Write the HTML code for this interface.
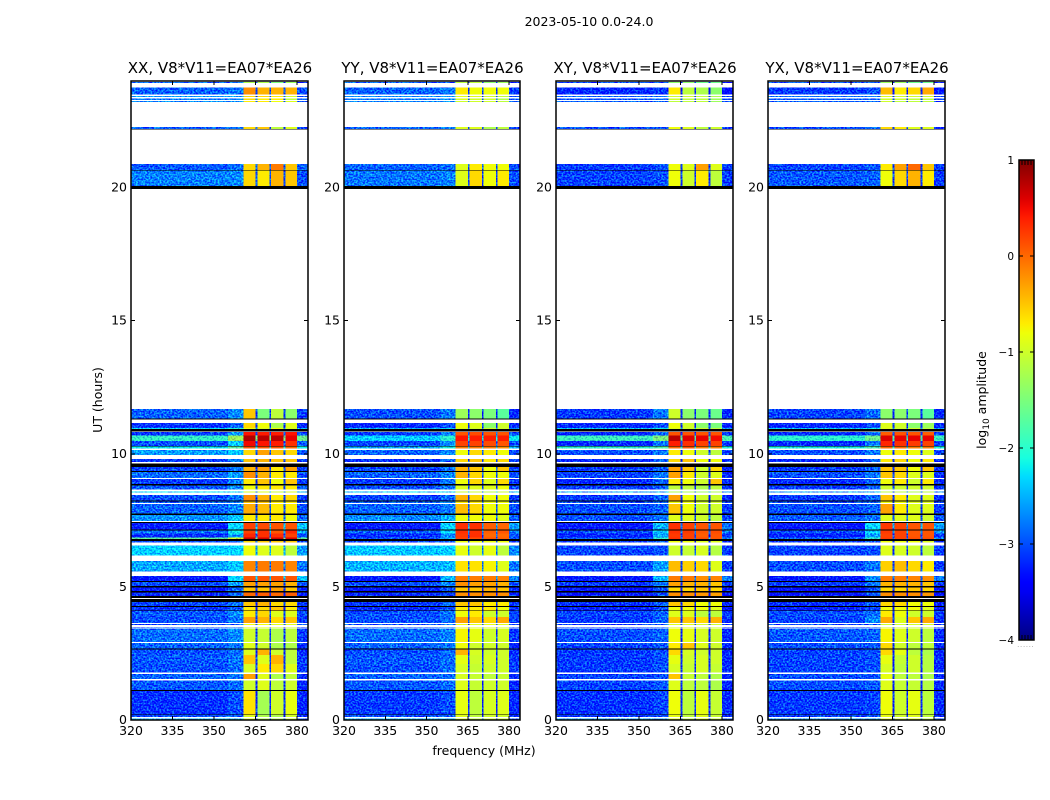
<!DOCTYPE html>
<html lang="en">
<head>
<meta charset="utf-8">
<title>2023-05-10 amplitude waterfall</title>
<style>
  html, body { margin: 0; padding: 0; background: #fff; }
  #figure { display: block; width: 1050px; height: 800px; }
  text { font-family: "DejaVu Sans", "Liberation Sans", sans-serif; fill: #000; }
</style>
</head>
<body>
<svg id="figure" xmlns="http://www.w3.org/2000/svg" width="1050" height="800" viewBox="0 0 1050 800">
  <defs>
    <filter id="grain" filterUnits="userSpaceOnUse" x="0" y="0" width="1050" height="800" color-interpolation-filters="sRGB">
      <feTurbulence type="fractalNoise" baseFrequency="0.55 0.62" numOctaves="1" seed="7" result="n"/>
      <feColorMatrix in="n" type="matrix" values="0.6 0 0 0 0.2  2.6 0 0 0 -0.8  0 0 0 0 0.5  0 0 0 0 1" result="c"/>
      <feComposite in="SourceGraphic" in2="c" operator="arithmetic" k1="0" k2="1" k3="0.7" k4="-0.35" result="m"/>
      <feComposite in="m" in2="SourceGraphic" operator="in"/>
    </filter>
    <linearGradient id="cbar-gradient" x1="0" y1="1" x2="0" y2="0"></linearGradient>
  </defs>
  <text x="589" y="26" text-anchor="middle" font-size="12.5">2023-05-10 0.0-24.0</text>
  <text x="484" y="755" text-anchor="middle" font-size="12.5">frequency (MHz)</text>
  <text transform="translate(102,400) rotate(-90)" text-anchor="middle" font-size="12.5">UT (hours)</text>
  <text transform="translate(986,400) rotate(-90)" text-anchor="middle" font-size="12.5">log<tspan dy="3" font-size="9">10</tspan><tspan dy="-3"> amplitude</tspan></text>
  <g id="panels"></g>
  <g id="colorbar"></g>
</svg>
<script>
// ---- data ------------------------------------------------------------
const K = -9; // fully flagged (black) time band
const panelTitles = ["XX, V8*V11=EA07*EA26", "YY, V8*V11=EA07*EA26", "XY, V8*V11=EA07*EA26", "YX, V8*V11=EA07*EA26"];
const xTicks = [320, 335, 350, 365, 380];
const yTicks = [0, 5, 10, 15, 20];
const cbarTicks = [-4, -3, -2, -1, 0, 1];
// UT hours of each observed time band; everything not listed is blank
const bandTop = [23.96,23.76,23.43,23.35,23.24,22.27,22.20,20.88,20.65,20.63,20.05,
  11.68,11.33,11.16,10.97,10.93,10.81,10.68,10.47,10.30,10.28,10.14,9.80,9.64,9.51,9.35,9.31,9.05,8.87,8.81,8.59,8.45,8.24,8.21,8.11,7.76,7.70,7.44,7.40,7.16,7.11,7.01,6.86,6.79,6.73,6.55,5.97,5.41,5.23,5.19,5.04,4.98,4.84,4.78,4.66,4.54,4.43,4.28,4.25,4.12,4.09,3.87,3.60,3.50,3.43,2.89,2.68,2.65,2.44,2.10,1.73,1.48,1.13,1.09,0.21,0.18,0.05];
const bandBottom = [23.92,23.50,23.39,23.28,23.21,22.20,22.17,20.65,20.63,20.05,19.95,
  11.33,11.29,10.97,10.93,10.83,10.68,10.47,10.30,10.28,10.19,9.95,9.69,9.51,9.35,9.31,9.09,8.87,8.81,8.66,8.55,8.24,8.21,8.15,7.76,7.70,7.47,7.40,7.16,7.11,7.01,6.86,6.79,6.73,6.66,6.17,5.57,5.23,5.19,5.04,4.98,4.84,4.78,4.66,4.59,4.43,4.28,4.25,4.12,4.09,3.87,3.65,3.56,3.47,2.93,2.68,2.65,2.44,2.10,1.78,1.54,1.13,1.09,0.21,0.18,0.12,0];
// frequency channel groups in MHz
const freqEdges = [320, 355, 360.6, 365.1, 365.7, 370.1, 370.7, 375.2, 375.8, 380, 384];
// which level of a row each frequency group uses: low, shoulder, s1..s4, edge (gaps follow edge)
const freqLevelIndex = [0, 1, 2, 6, 3, 6, 4, 6, 5, 6];
// log10 amplitude per band: [low, shoulder, spw1, spw2, spw3, spw4, edge]
const xxLevels = [
[-2.9,-2.9,-1.2,-1.2,-1.5,-1.3,-3.3],[-2.9,-2.8,-.2,-.4,-.4,-.4,-3],[-2.6,-2.6,-.6,-.6,-.7,-1,-3],[-2.8,-2.7,-.6,-.7,-.7,-1.1,-2.9],[-2.7,-2.7,-.7,-.7,-.8,-.9,-3],[-2.9,-2.8,-.6,-.5,-1.1,-.9,-3.1],K,
[-2.95,-2.85,-.6,-.4,-.1,-.5,-2.9],K,[-2.75,-2.7,-.6,-.7,-.4,-.5,-3],K,
[-2.9,-2.7,-.5,-1.5,-1.1,-1.4,-3.1],K,[-3.15,-2.9,-.6,-.8,-1.2,-.9,-3.2],[-2.3,-2.1,-.8,-.9,-.8,-.9,-2.5],K,
[-3.1,-2.6,.45,.4,.4,.45,-3],[-1.95,-1.3,.8,.75,.75,.55,-1.6],[-3,-2.4,.5,.45,.4,.3,-2.9],K,[-2.2,-1.7,.1,.1,.1,0,-2.2],
[-2.6,-2.4,-.6,-.3,-.5,-.6,-2.9],[-3.1,-2.7,-.5,-.4,-.5,-.5,-3.1],K,[-3.05,-2.8,-.4,-.3,-.7,-.3,-3.1],K,
[-2.85,-2.6,-.2,-.4,-.7,-.7,-3],[-3.1,-2.75,-.7,-.5,-.8,-.5,-3.1],K,[-2.95,-2.7,-.8,-.7,-.7,-.7,-2.9],[-2.3,-2.3,-.9,-.9,-1,-.9,-2.5],
[-3,-2.8,-.2,-.4,-.7,-.6,-3.1],K,[-2.9,-2.7,-.5,-.5,-.7,-.7,-3],[-2.9,-2.7,-.35,-.45,-.7,-.7,-3],K,
[-2.65,-2.4,-.7,-.7,-.7,-.8,-2.9],K,[-3.25,-2.3,.2,.15,.1,.1,-2.4],K,[-2.8,-2.2,.2,.3,.1,.35,-2.5],[-3.2,-2.6,.35,.3,.3,.2,-3],[-1.7,-1,.7,.65,.65,.6,-1.7],K,
[-3,-2.8,-.6,-.5,-.5,-.5,-3.1],[-2.35,-2.3,-.8,-.9,-.9,-1.1,-2.6],[-2.55,-2.4,-.15,-.1,-.1,-.15,-2.8],
[-3.3,-2.3,.1,.1,.1,.1,-2.4],K,[-3,-2.6,-.3,-.3,-.3,-.4,-3],K,[-3.3,-2.9,-.5,-.5,-.3,-.5,-3.2],K,[-3.2,-2.9,0,.05,0,.05,-3.2],K,K,
[-3.05,-2.85,-.5,-.4,-.6,-.6,-3.1],K,[-3.15,-2.95,-.7,-.6,-.5,-.7,-3.2],K,[-2.95,-2.7,-.7,-.6,-.9,-.9,-3],[-3,-2.8,-.3,-.4,-.6,-.5,-3.1],
[-3,-2.9,-.8,-.8,-.9,-.9,-3.1],[-3,-2.9,-.8,-.8,-.9,-.9,-3.1],[-2.85,-2.7,-1,-1.05,-1.2,-1.1,-3.1],[-2.9,-2.8,-.9,-1,-1.2,-1.2,-3.2],K,
[-3,-2.85,-.9,-.4,-1,-1.1,-3.2],[-2.95,-2.8,-.5,-.9,-.4,-1.1,-3.1],[-3,-2.85,-.95,-.7,-.6,-.9,-3.1],[-2.9,-2.8,-.3,-.9,-1.2,-1.1,-3.2],[-2.95,-2.85,-1,-.9,-1.1,-1,-3.2],K,
[-3.15,-3,-.65,-1.25,-1,-.85,-3.2],K,[-3,-2.9,-.9,-1.2,-1.2,-1,-3.2],[-2.5,-2.5,-.9,-1.2,-1.2,-1,-3]
];
const yyLevels = [
[-2.9,-2.9,-1.1,-1.1,-1.4,-1.3,-3.3],[-2.9,-2.8,-.7,-.8,-.8,-.8,-3.1],[-2.7,-2.6,-.9,-.9,-1,-1.1,-3],[-2.8,-2.7,-.9,-1,-1,-1.2,-3],[-2.7,-2.7,-1,-1,-1,-1.1,-3],[-2.9,-2.8,-.9,-.9,-1.2,-1.1,-3.1],K,
[-2.9,-2.85,-.9,-.7,-.8,-.8,-3],K,[-2.8,-2.75,-.9,-.6,-.8,-.7,-3],K,
[-3,-2.8,-1.3,-1.4,-1.5,-1.7,-3.2],K,[-3.2,-3,-.8,-.9,-1.4,-1,-3.2],[-2.5,-2.3,-.9,-1,-1,-1,-2.7],K,
[-3.1,-2.8,.1,.15,.1,.1,-3],[-2.35,-2,.45,.4,.4,.4,-2.2],[-3.05,-2.7,.2,.2,.15,.1,-3],K,[-2.5,-2.1,-.1,-.1,-.1,-.2,-2.5],
[-2.9,-2.7,-.8,-.6,-.7,-.8,-3],[-3.15,-2.9,-.6,-.5,-.7,-.6,-3.1],K,[-3.05,-2.85,-.4,-.5,-.8,-.5,-3.1],K,
[-2.9,-2.7,-.4,-.6,-.8,-.8,-3],[-3.1,-2.8,-.8,-.6,-.9,-.6,-3.1],K,[-3,-2.8,-.9,-.9,-.9,-.8,-3],[-2.4,-2.4,-1,-1,-1.1,-1,-2.6],
[-3.05,-2.85,-.4,-.6,-.8,-.8,-3.1],K,[-2.9,-2.8,-.7,-.7,-.8,-.8,-3],[-2.9,-2.8,-.45,-.6,-.8,-.8,-3],K,
[-2.7,-2.5,-.8,-.8,-.8,-.9,-2.9],K,[-3.3,-2.3,.3,.3,.05,0,-2.6],K,[-2.9,-2.3,.3,.3,.05,.1,-2.7],[-3.2,-2.7,.25,.3,0,0,-3],[-3,-2.5,.2,.15,.1,.05,-2.9],K,
[-3,-2.85,-.8,-.8,-.8,-.8,-3.1],[-2.4,-2.35,-.85,-1,-.85,-1.1,-2.7],[-2.5,-2.45,-.65,-.65,-.75,-.9,-2.8],
[-3.3,-2.5,-.1,-.1,-.1,-.15,-2.7],K,[-3,-2.7,-.2,-.3,-.3,-.4,-3],K,[-3.3,-3,-.5,-.5,-.4,-.5,-3.2],K,[-3.2,-3,-.2,-.2,-.2,-.2,-3.2],K,K,
[-3.1,-2.9,-.5,-.5,-.7,-.7,-3.1],K,[-3.2,-3,-.7,-.7,-.7,-.8,-3.2],K,[-3,-2.8,-.8,-.7,-1,-1,-3],[-3,-2.85,-.3,-.5,-.6,-.35,-3.1],
[-3,-2.9,-.8,-.9,-.85,-.9,-3.1],[-3,-2.9,-.8,-.9,-.85,-.9,-3.1],[-2.85,-2.75,-.75,-.85,-1,-.95,-3.1],[-2.9,-2.8,-.8,-1,-1,-1,-3.2],K,
[-3,-2.85,-.4,-.95,-1,-1,-3.2],[-2.95,-2.85,-.85,-1,-.95,-1,-3.1],[-3,-2.85,-.95,-1.05,-1,-1,-3.1],[-2.9,-2.85,-.95,-1.05,-1.1,-1.05,-3.2],[-2.95,-2.85,-.9,-1.05,-1,-1,-3.2],K,
[-3.1,-3,-.85,-1.1,-.95,-.9,-3.2],K,[-3,-2.9,-.9,-1.1,-1,-1,-3.2],[-2.5,-2.5,-.9,-1.1,-1,-1,-3]
];
const xyLevels = [
[-3,-3,-1.4,-1.4,-1.6,-1.6,-3.3],[-3.2,-3.1,-.7,-1.1,-1.2,-1.4,-3.4],[-2.9,-2.8,-1,-1,-1.1,-1.2,-3.1],[-3,-2.9,-1,-1.1,-1.1,-1.3,-3.1],[-2.9,-2.9,-1.1,-1.1,-1.1,-1.3,-3.1],[-3,-2.9,-.8,-.9,-1.1,-1,-3.2],K,
[-3.1,-3,-.8,-.9,-.3,-.9,-3.1],K,[-3.05,-3,-.8,-1,-.7,-1.1,-3.1],K,
[-3.1,-2.8,-1,-1.4,-1.5,-1.6,-3.2],K,[-3.2,-3,-.8,-1,-1.4,-1.5,-3.2],[-2.4,-2.2,-.9,-1,-1,-1.1,-2.6],K,
[-3.2,-2.9,.1,.1,.1,.1,-3.1],[-1.9,-1.5,.75,.6,.55,.5,-1.8],[-3.2,-2.8,.4,.3,.2,.2,-3.1],K,[-2,-1.8,0,.1,-.1,-.1,-2.1],
[-3,-2.8,-.7,-.8,-1,-1.1,-3.1],[-3.2,-2.9,-.6,-.5,-.8,-.8,-3.2],K,[-3.1,-2.9,-.3,-.5,-1,-.6,-3.2],K,
[-3.05,-2.8,-.3,-.7,-1,-.9,-3.2],[-3.2,-2.9,-.7,-.8,-1,-.5,-3.2],K,[-3.1,-2.9,-1.1,-1.1,-1.2,-1.1,-3.1],[-2.6,-2.6,-1.2,-1.2,-1.3,-1.2,-2.8],
[-3.1,-2.9,-.3,-.8,-1,-1,-3.2],K,[-3,-2.9,-.8,-.8,-1,-1,-3.1],[-3,-2.9,-.5,-.8,-1,-1,-3.1],K,
[-3,-2.8,-.9,-.9,-1,-1.1,-3],K,[-3.3,-2.5,.3,.2,.1,.1,-2.8],K,[-3,-2.4,.3,.25,.1,.15,-2.8],[-3.25,-2.6,.25,.2,.05,.1,-3.1],[-2.9,-2,.3,.2,.15,.1,-2.7],K,
[-3.1,-2.9,-.8,-.8,-.9,-.9,-3.2],[-3.05,-3,-1,-1.05,-.95,-1.15,-3.1],[-3,-2.6,-.45,-.55,-.6,-.9,-3.1],
[-3.3,-2.5,-.1,-.1,-.2,-.15,-2.8],K,[-3.1,-2.8,-.3,-.4,-.4,-.5,-3.1],K,[-3.35,-3,-.6,-.6,-.5,-.6,-3.3],K,[-3.3,-3,-.2,-.2,-.25,-.3,-3.3],K,K,
[-3.15,-2.95,-.5,-.6,-.8,-.8,-3.2],K,[-3.25,-3.05,-.8,-.8,-.8,-.9,-3.3],K,[-3.05,-2.9,-.9,-.9,-1.1,-1.1,-3.1],[-3.1,-2.9,-.5,-.5,-.6,-.4,-3.2],
[-3.1,-3,-.9,-.9,-1,-1,-3.2],[-3.1,-3,-.9,-.9,-1,-1,-3.2],[-3,-2.9,-.8,-.85,-.95,-1,-3.2],[-3.05,-2.95,-.7,-.5,-.9,-1,-3.2],K,
[-3.1,-3,-.6,-.95,-1,-1,-3.2],[-3.1,-3,-.85,-1,-.95,-1,-3.2],[-3.1,-3,-.95,-1.05,-.95,-1.05,-3.2],[-3.05,-3,-.5,-1.05,-1.1,-1.2,-3.2],[-3.05,-2.95,-.9,-1.1,-1.1,-1.2,-3.2],K,
[-3.15,-3.05,-.8,-1.1,-.85,-1.05,-3.2],K,[-3.1,-3,-.85,-1.1,-.9,-1.05,-3.2],[-2.6,-2.6,-.85,-1.1,-.9,-1.05,-3]
];
const yxLevels = [
[-3,-3,-1.3,-1.3,-1.6,-1.6,-3.3],[-3.1,-3,-.45,-.7,-.6,-.35,-3.3],[-2.85,-2.8,-.9,-1,-1,-1,-3.1],[-2.95,-2.9,-1,-1,-1.1,-1.1,-3.1],[-2.9,-2.9,-1,-1.1,-1.1,-1.1,-3.1],[-3,-2.9,-.6,-.7,-.9,-.9,-3.2],K,
[-3.05,-2.95,-.7,-.3,0,-.5,-3.1],K,[-2.95,-2.9,-.8,-.6,-.4,-.7,-3.1],K,
[-3.05,-2.85,-1.4,-1.4,-1.5,-1.7,-3.2],K,[-3.2,-3,-.9,-1,-1.4,-1.3,-3.2],[-2.4,-2.2,-.9,-1,-1,-1.1,-2.6],K,
[-3.2,-2.9,.05,.1,.1,.05,-3.1],[-2,-1.6,.6,.55,.55,.55,-1.9],[-3.2,-2.8,.35,.3,.25,.2,-3.1],K,[-2.1,-1.8,0,0,-.1,-.1,-2.1],
[-3,-2.8,-.8,-.7,-.8,-.9,-3.1],[-3.2,-2.9,-.7,-.6,-.8,-.7,-3.2],K,[-3.1,-2.9,-.5,-.5,-.8,-.5,-3.2],K,
[-3,-2.8,-.5,-.6,-.9,-.9,-3.2],[-3.2,-2.9,-.8,-.7,-1,-.7,-3.2],K,[-3.1,-2.9,-1,-1,-1,-1,-3.1],[-2.6,-2.6,-1.1,-1.1,-1.2,-1.1,-2.8],
[-3.1,-2.9,-.5,-.7,-.9,-.9,-3.2],K,[-3,-2.9,-.8,-.8,-.9,-.9,-3.1],[-3,-2.9,-.3,-.7,-.9,-.9,-3.1],K,
[-2.95,-2.8,-.9,-.9,-.9,-1,-3],K,[-3.3,-2.3,.25,.2,.1,.1,-2.6],K,[-3,-2.3,.25,.2,.1,.1,-2.6],[-3.25,-2.6,.2,.2,.1,.1,-3.1],[-2.9,-2,.25,.2,.15,.15,-2.7],K,
[-3.1,-2.9,-.8,-.8,-.8,-.9,-3.2],[-3.05,-3,-.9,-.95,-1,-1.1,-3.1],[-3,-2.8,-.55,-.45,-.6,-.7,-3.1],
[-3.3,-2.7,-.1,-.1,-.15,-.2,-2.8],K,[-3.1,-2.8,-.4,-.4,-.4,-.5,-3.1],K,[-3.35,-3,-.6,-.6,-.5,-.6,-3.3],K,[-3.3,-3,-.2,-.2,-.2,-.25,-3.3],K,K,
[-3.15,-2.95,-.6,-.6,-.8,-.8,-3.2],K,[-3.25,-3.05,-.8,-.8,-.8,-.9,-3.3],K,[-3,-2.85,-.7,-.8,-1,-1,-3.1],[-3.05,-2.7,-.35,-.9,-.5,-.35,-3.2],
[-3.05,-3,-1,-1,-1,-1,-3.2],[-3.05,-3,-1,-1,-1,-1,-3.2],[-2.95,-2.9,-.75,-.9,-1,-1.1,-3.2],[-3,-2.95,-.6,-1,-1.1,-1.1,-3.2],K,
[-3.05,-3,-.6,-.85,-1.1,-1.2,-3.2],[-3.05,-3,-.85,-1.05,-1,-1.15,-3.2],[-3.05,-3,-.95,-1.1,-1,-1.15,-3.2],[-3,-3,-.85,-1.1,-1.1,-1.2,-3.2],[-3,-2.95,-.9,-1.05,-1.05,-1.15,-3.2],K,
[-3.1,-3.05,-.8,-1,-.85,-1.1,-3.2],K,[-3.05,-3,-.85,-1,-.9,-1.1,-3.2],[-2.6,-2.6,-.85,-1,-.9,-1.1,-3]
];
const panelLevels = [xxLevels, yyLevels, xyLevels, yxLevels];
const panelNames = ["xx", "yy", "xy", "yx"];
const panelLeft = [131, 344, 556, 768];
const panelWidth = [177, 176, 177, 177];

// ---- axis functions --------------------------------------------------
const NS = "http://www.w3.org/2000/svg";
const plotTop = 81, plotBottom = 720;
const xMin = 320, xMax = 384, yMin = 0, yMax = 24;
const cbarLeft = 1019, cbarRight = 1034, cbarTop = 160, cbarBottom = 640, vMin = -4, vMax = 1;
function xScale(p, f) { return panelLeft[p] + (f - xMin) / (xMax - xMin) * panelWidth[p]; }
function yScale(h) { return plotBottom - (h - yMin) / (yMax - yMin) * (plotBottom - plotTop); }
function cbarY(v) { return cbarBottom - (v - vMin) / (vMax - vMin) * (cbarBottom - cbarTop); }
function interp(anchors, t) {
  for (let i = 1; i < anchors.length; i++) {
    if (t <= anchors[i][0]) {
      const a = anchors[i - 1], b = anchors[i];
      return a[1] + (b[1] - a[1]) * (t - a[0]) / (b[0] - a[0]);
    }
  }
  return anchors[anchors.length - 1][1];
}
const jetR = [[0,0],[.35,0],[.66,1],[.89,1],[1,.5]];
const jetG = [[0,0],[.125,0],[.375,1],[.64,1],[.91,0],[1,0]];
const jetB = [[0,.5],[.11,1],[.34,1],[.65,0],[1,0]];
function jetColor(v) {
  const t = Math.max(0, Math.min(1, (v - vMin) / (vMax - vMin)));
  const c = [jetR, jetG, jetB].map(function (a) { return Math.round(interp(a, t) * 255); });
  return "rgb(" + c[0] + "," + c[1] + "," + c[2] + ")";
}
function make(tag, parent) {
  const el = document.createElementNS(NS, tag);
  parent.appendChild(el);
  return el;
}
function setAll(el, attrs) {
  Object.keys(attrs).forEach(function (k) { el.setAttribute(k, attrs[k]); });
  return el;
}
function tickLine(parent, x1, y1, x2, y2) {
  const t = setAll(make("line", parent), { x1: x1, y1: y1, x2: x2, y2: y2, stroke: "#000", "stroke-width": 1, "shape-rendering": "crispEdges" });
  
  
  return t;
}
function label(parent, x, y, anchor, size, str) {
  const t = setAll(make("text", parent), { x: x, y: y, "text-anchor": anchor, "font-size": size });
  t.textContent = str;
  
  
  return t;
}

// ---- panels ----------------------------------------------------------
const panelsRoot = document.getElementById("panels");
panelTitles.forEach(function (title, p) {
  const left = panelLeft[p];
  const w = panelWidth[p];
  const g = make("g", panelsRoot);
  
  

  const t = setAll(make("text", g), { x: left + w / 2 + 0.5, y: 73, "text-anchor": "middle", "font-size": 15 });
  t.textContent = title;
  
  

  const cells = make("g", g);
  cells.setAttribute("filter", "url(#grain)");
  cells.setAttribute("shape-rendering", "crispEdges");
  
  
  const signal = make("g", g);
  signal.setAttribute("shape-rendering", "crispEdges");
  
  
  const flagged = make("g", g);
  flagged.setAttribute("shape-rendering", "crispEdges");
  
  

  panelLevels[p].forEach(function (row, b) {
    const yT = yScale(bandTop[b]);
    const yB = yScale(bandBottom[b]);
    if (row === K) {
      const r = setAll(make("rect", flagged), { x: left, y: yT, width: w, height: yB - yT, fill: "#000" });
      
      
      return;
    }
    for (let c = 0; c + 1 < freqEdges.length; c++) {
      const x0 = xScale(p, freqEdges[c]);
      const x1 = xScale(p, freqEdges[c + 1]);
      const idx = freqLevelIndex[c];
      const isSignal = idx >= 2 && idx <= 5;
      const r = setAll(make("rect", isSignal ? signal : cells), { x: x0, y: yT, width: x1 - x0, height: yB - yT, fill: jetColor(row[idx]) });
      
      
    }
  });

  const frame = setAll(make("rect", g), { x: left, y: plotTop, width: w, height: plotBottom - plotTop, fill: "none", stroke: "#000", "stroke-width": 1.5 });
  
  

  xTicks.forEach(function (f) {
    const x = xScale(p, f);
    tickLine(g, x, plotBottom, x, plotBottom - 4);
    tickLine(g, x, plotTop, x, plotTop + 4);
    label(g, x, 735, "middle", 12.5, String(f));
  });
  yTicks.forEach(function (h) {
    const y = yScale(h);
    tickLine(g, left, y, left + 4, y);
    tickLine(g, left + w, y, left + w - 4, y);
    label(g, left - 4, y + 4, "end", 12.5, String(h));
  });
});

// ---- colorbar --------------------------------------------------------
const grad = document.getElementById("cbar-gradient");
for (let i = 0; i <= 50; i++) {
  setAll(make("stop", grad), { offset: i / 50, "stop-color": jetColor(vMin + (vMax - vMin) * i / 50) });
}
const cbarRoot = document.getElementById("colorbar");
const cbarRect = setAll(make("rect", cbarRoot), { x: cbarLeft, y: cbarTop, width: cbarRight - cbarLeft, height: cbarBottom - cbarTop, fill: "url(#cbar-gradient)", stroke: "#000", "stroke-width": 1.5 });


cbarTicks.forEach(function (v) {
  const y = cbarY(v);
  tickLine(cbarRoot, cbarLeft, y, cbarLeft + 4, y);
  tickLine(cbarRoot, cbarRight, y, cbarRight - 4, y);
  label(cbarRoot, cbarLeft - 5, y + 4, "end", 10.5, (v < 0 ? "\u2212" + (-v) : String(v)));
});
[3, 6, 9, 12].forEach(function (dx) {
  tickLine(cbarRoot, cbarLeft + dx, cbarTop, cbarLeft + dx, cbarTop + 5);
  tickLine(cbarRoot, cbarLeft + dx, cbarBottom, cbarLeft + dx, cbarBottom - 5);
});
const dots = setAll(make("text", cbarRoot), { x: 1026, y: 647, "text-anchor": "middle", "font-size": 6, "letter-spacing": 1 });
dots.textContent = "......";
dots.style.fill = "#777";


</script>
</body>
</html>
